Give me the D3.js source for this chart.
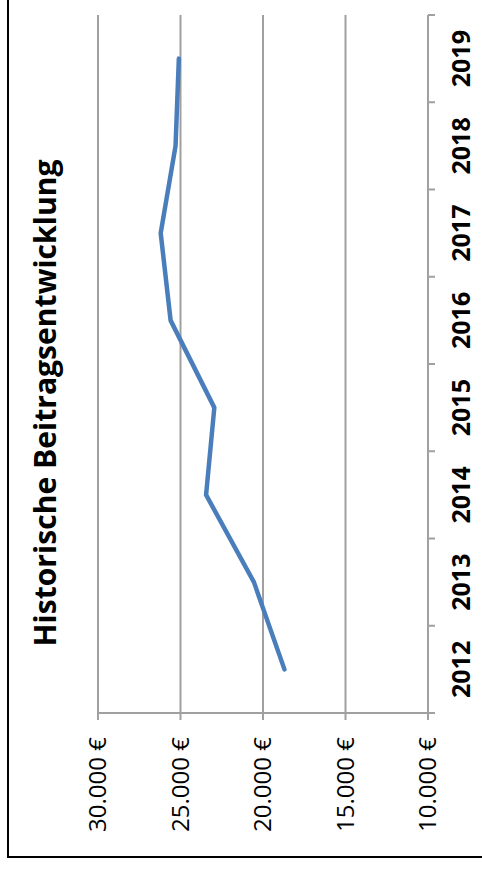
<!DOCTYPE html>
<html>
<head>
<meta charset="utf-8">
<script src="https://cdn.jsdelivr.net/npm/d3@7"></script>
<style>
  html, body { margin: 0; padding: 0; background: #fff; }
  svg { display: block; }
</style>
</head>
<body>
<div id="chart"></div>
<script>
// Chart data
const years = ["2012", "2013", "2014", "2015", "2016", "2017", "2018", "2019"];
const beitrag = [18700, 20550, 23450, 22950, 25600, 26200, 25300, 25100];
const valueTicks = [10000, 15000, 20000, 25000, 30000];
const title = "Historische Beitragsentwicklung";

const W = 482, H = 871;
const plot = { left: 98, right: 428, top: 15, bottom: 713 };

const svg = d3.select("#chart").append("svg")
    .attr("width", W)
    .attr("height", H);

// outer frame (top/right edges run off the picture)
svg.append("rect")
    .attr("x", 8).attr("y", -10)
    .attr("width", W + 10).attr("height", 867)
    .attr("fill", "none")
    .attr("stroke", "#000")
    .attr("stroke-width", 2);

// Scales - the chart is turned 90deg, values grow to the left
const x = d3.scaleLinear().domain([10000, 30000]).range([plot.right, plot.left]);
const y = d3.scaleBand().domain(years).range([plot.bottom, plot.top]);

const fmt = d => d3.format(",")(d).replace(/,/g, ".") + " €";

// gridlines
svg.append("g").selectAll("line")
    .data(valueTicks.filter(v => v !== 10000))
    .join("line")
    .attr("x1", d => x(d)).attr("x2", d => x(d))
    .attr("y1", plot.top).attr("y2", plot.bottom)
    .attr("stroke", "#a0a0a0")
    .attr("stroke-width", 2);

// value axis (bottom)
svg.append("line")
    .attr("x1", plot.left).attr("x2", plot.right + 7)
    .attr("y1", plot.bottom).attr("y2", plot.bottom)
    .attr("stroke", "#a0a0a0").attr("stroke-width", 2);

svg.append("g").selectAll("line")
    .data(valueTicks)
    .join("line")
    .attr("x1", d => x(d)).attr("x2", d => x(d))
    .attr("y1", plot.bottom).attr("y2", plot.bottom + 7)
    .attr("stroke", "#a0a0a0").attr("stroke-width", 2);

svg.append("g").selectAll("text")
    .data(valueTicks)
    .join("text")
    .attr("transform", d => `translate(${x(d) + 8},${plot.bottom + 24}) rotate(-90)`)
    .attr("text-anchor", "end")
    .style("font-family", "'Open Sans', sans-serif")
    .style("font-size", "24px")
    .style("fill", "#000")
    .text(fmt);

// category axis (right)
svg.append("line")
    .attr("x1", plot.right).attr("x2", plot.right)
    .attr("y1", plot.top).attr("y2", plot.bottom)
    .attr("stroke", "#a0a0a0").attr("stroke-width", 2);

const bounds = years.map(d => y(d)).concat([plot.bottom]);
svg.append("g").selectAll("line")
    .data(bounds)
    .join("line")
    .attr("x1", plot.right).attr("x2", plot.right + 7)
    .attr("y1", d => d).attr("y2", d => d)
    .attr("stroke", "#a0a0a0").attr("stroke-width", 2);

svg.append("g").selectAll("text")
    .data(years)
    .join("text")
    .attr("transform", d => `translate(470,${y(d) + y.bandwidth() / 2}) rotate(-90)`)
    .attr("text-anchor", "middle")
    .style("font-family", "'Open Sans', sans-serif")
    .style("font-size", "25px")
    .style("font-weight", "bold")
    .style("fill", "#000")
    .text(d => d);

// line series
const line = d3.line()
    .x(d => x(d.v))
    .y(d => y(d.year) + y.bandwidth() / 2);

svg.append("path")
    .datum(years.map((year, i) => ({ year, v: beitrag[i] })))
    .attr("d", line)
    .attr("fill", "none")
    .attr("stroke", "#4a7ebb")
    .attr("stroke-width", 4.5)
    .attr("stroke-linejoin", "round")
    .attr("stroke-linecap", "round");

// title
svg.append("text")
    .attr("transform", "translate(56,403) rotate(-90)")
    .attr("text-anchor", "middle")
    .attr("textLength", 487)
    .attr("lengthAdjust", "spacingAndGlyphs")
    .style("font-family", "'Open Sans', sans-serif")
    .style("font-size", "31px")
    .style("font-weight", "bold")
    .style("fill", "#000")
    .text(title);
</script>
</body>
</html>
